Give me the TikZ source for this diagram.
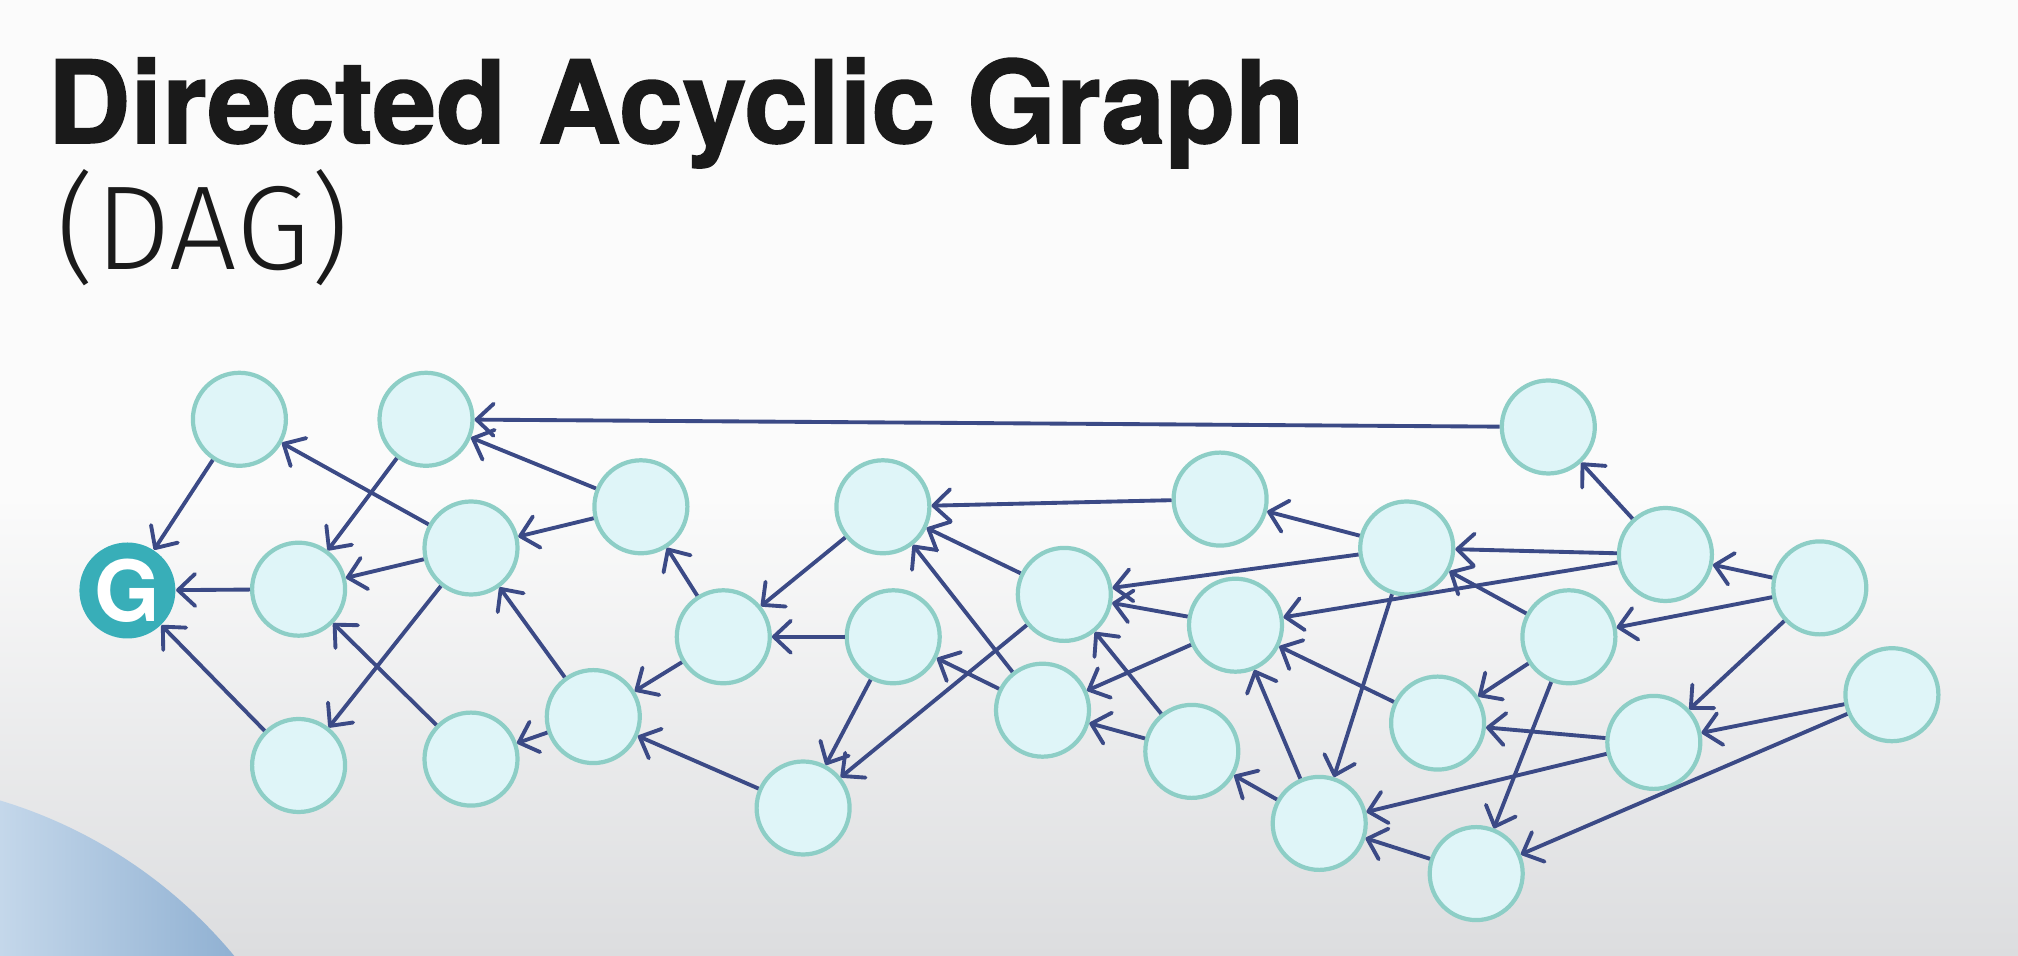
\documentclass[tikz,border=0pt]{standalone}
\usepackage{fontspec}
\usepackage{xcolor}
\usepackage{tikz}
\usetikzlibrary{arrows.meta}
\setmainfont{TeX Gyre Heros}
\newfontfamily\titlefont{texgyreheros-bold.otf}[FakeBold=1.4]
\newfontfamily\daglight{Fira Sans Light}
\definecolor{dagnavy}{HTML}{3B4A86}
\definecolor{dagteal}{HTML}{38AEB8}
\definecolor{dagring}{HTML}{8DCEC6}
\definecolor{dagfill}{HTML}{DFF5F8}
\definecolor{dagblue}{HTML}{8FB0D2}
\definecolor{dagsky}{HTML}{C4D7EA}
\definecolor{bgtop}{HTML}{FBFBFB}
\definecolor{bgbot}{HTML}{DCDDDF}
\definecolor{titleink}{HTML}{1A1A1A}

\begin{document}
\begin{tikzpicture}[
    vert/.style={circle, draw=dagring, fill=dagfill, line width=1.2pt, minimum size=9.3mm, inner sep=0pt},
    goal/.style={circle, fill=dagteal, minimum size=9.6mm, inner sep=0pt, text=white, font=\bfseries\fontsize{24}{24}\selectfont},
    arrow/.style={-{Straight Barb[length=1.7mm, width=3.2mm, round]}, line width=1.1pt, color=dagnavy}
]
\useasboundingbox (0,0) rectangle (20.18,9.56);

% Background
\fill[bgtop] (0,0) rectangle (20.18,9.56);
\shade[top color=bgtop, bottom color=bgbot] (0,0) rectangle (20.18,4.6);
\begin{scope}
  \clip (-1.40,-3.10) circle (4.86);
  \shade[left color=dagsky, right color=dagblue] (0,0) rectangle (2.4,1.7);
\end{scope}

% Title
\node[anchor=base west, inner sep=0pt, text=titleink, font=\titlefont\fontsize{32.6}{33}\selectfont] (title) at (0.47,8.13) {Directed Acyclic Graph};
\node[anchor=base west, inner sep=0pt, text=titleink, font=\daglight\fontsize{34}{34}\selectfont] (subtitle) at (0.56,6.86) {(DAG)};

% Goal node
\node[goal] (g) at (1.274,3.655) {G};

% Vertices
\node[vert] (v1) at (2.394,5.367) {};
\node[vert] (v2) at (4.260,5.367) {};
\node[vert] (v3) at (2.986,3.668) {};
\node[vert] (v4) at (4.710,4.080) {};
\node[vert] (v5) at (6.409,4.492) {};
\node[vert] (v6) at (2.986,1.905) {};
\node[vert] (v7) at (4.710,1.969) {};
\node[vert] (v8) at (5.933,2.394) {};
\node[vert] (v9) at (7.233,3.192) {};
\node[vert] (v10) at (8.829,4.492) {};
\node[vert] (v11) at (8.932,3.192) {};
\node[vert] (v12) at (8.031,1.480) {};
\node[vert] (v13) at (10.643,3.616) {};
\node[vert] (v14) at (10.425,2.458) {};
\node[vert] (v15) at (12.201,4.569) {};
\node[vert] (v16) at (12.355,3.308) {};
\node[vert] (v17) at (11.918,2.046) {};
\node[vert] (v18) at (14.067,4.080) {};
\node[vert] (v19) at (14.376,2.329) {};
\node[vert] (v20) at (13.192,1.326) {};
\node[vert] (v21) at (15.483,5.290) {};
\node[vert] (v22) at (16.654,4.015) {};
\node[vert] (v23) at (15.689,3.192) {};
\node[vert] (v24) at (16.538,2.136) {};
\node[vert] (v25) at (18.198,3.681) {};
\node[vert] (v26) at (18.919,2.613) {};
\node[vert] (v27) at (14.762,0.824) {};

% Edges into G and the left part
\draw[arrow] (v1) -- (g);
\draw[arrow] (v3) -- (g);
\draw[arrow] (v6) -- (g);
\draw[arrow] (v4) -- (v1);
\draw[arrow] (v2) -- (v3);
\draw[arrow] (v4) -- (v3);
\draw[arrow] (v7) -- (v3);
\draw[arrow] (v4) -- (v6);
\draw[arrow] (v5) -- (v2);
\draw[arrow] (v21) -- (v2);
\draw[arrow] (v5) -- (v4);
\draw[arrow] (v8) -- (v4);
\draw[arrow] (v8) -- (v7);
\draw[arrow] (v9) -- (v8);
\draw[arrow] (v12) -- (v8);
\draw[arrow] (v9) -- (v5);

% Middle part
\draw[arrow] (v10) -- (v9);
\draw[arrow] (v11) -- (v9);
\draw[arrow] (v11) -- (v12);
\draw[arrow] (v13) -- (v12);
\draw[arrow] (v15) -- (v10);
\draw[arrow] (v13) -- (v10);
\draw[arrow] (v14) -- (v10);
\draw[arrow] (v14) -- (v11);
\draw[arrow] (v18) -- (v13);
\draw[arrow] (v16) -- (v13);
\draw[arrow] (v17) -- (v13);
\draw[arrow] (v16) -- (v14);
\draw[arrow] (v17) -- (v14);
\draw[arrow] (v18) -- (v15);
\draw[arrow] (v20) -- (v16);
\draw[arrow] (v19) -- (v16);
\draw[arrow] (v22) -- (v16);
\draw[arrow] (v18) -- (v20);
\draw[arrow] (v20) -- (v17);

% Right part
\draw[arrow] (v27) -- (v20);
\draw[arrow] (v24) -- (v20);
\draw[arrow] (v22) -- (v18);
\draw[arrow] (v23) -- (v18);
\draw[arrow] (v22) -- (v21);
\draw[arrow] (v25) -- (v22);
\draw[arrow] (v25) -- (v23);
\draw[arrow] (v25) -- (v24);
\draw[arrow] (v23) -- (v19);
\draw[arrow] (v24) -- (v19);
\draw[arrow] (v23) -- (v27);
\draw[arrow] (v26) -- (v24);
\draw[arrow] (v26) -- (v27);

\end{tikzpicture}
\end{document}
